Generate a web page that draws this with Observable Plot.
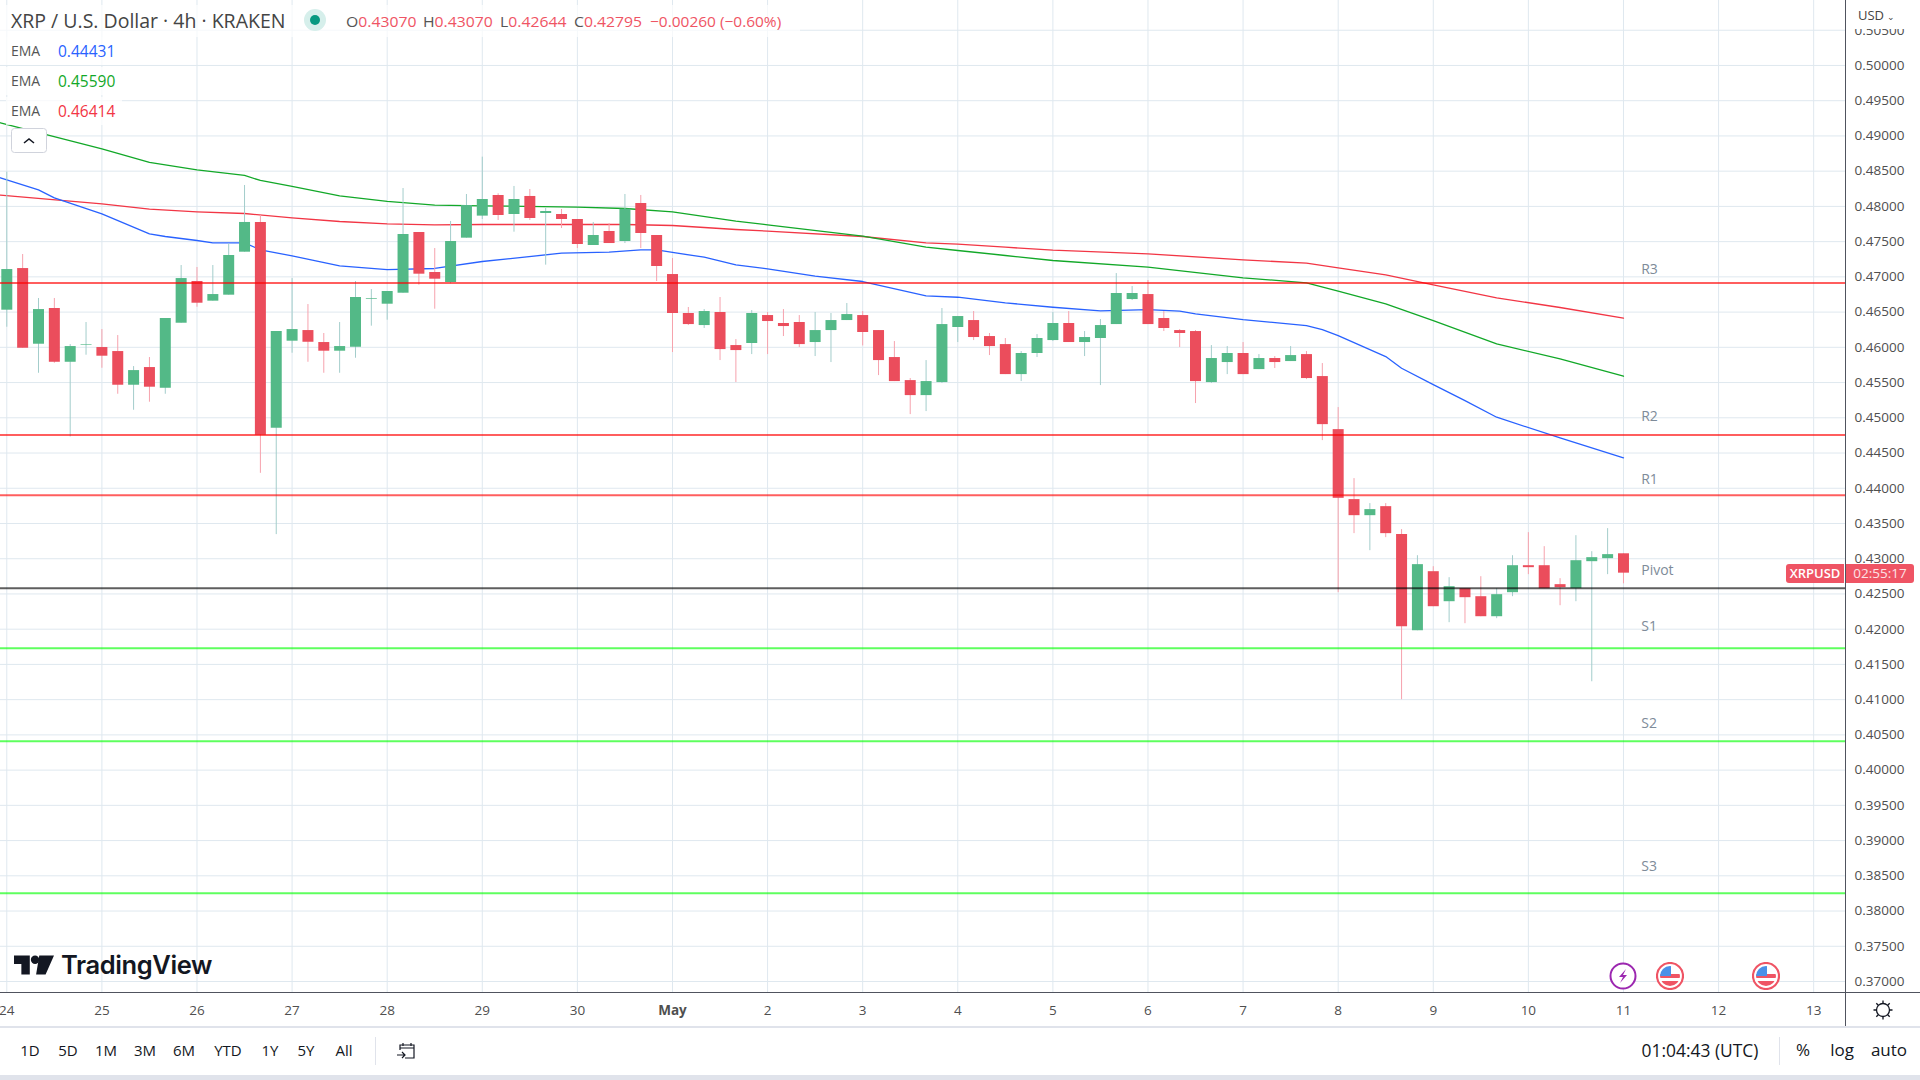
<!DOCTYPE html>
<html><head><meta charset="utf-8">
<script src="https://cdn.jsdelivr.net/npm/d3@7"></script>
<script src="https://cdn.jsdelivr.net/npm/@observablehq/plot@0.6"></script>
<style>
html,body{margin:0;padding:0;background:#fff;width:1920px;height:1080px;overflow:hidden;font-family:"Open Sans",sans-serif}
#wrap{position:relative;width:1920px;height:1080px}
#chart svg{display:block;max-width:none}
.t{position:absolute;white-space:nowrap;line-height:1}
.hl{position:absolute;background:#50535e}
.leg{position:absolute;left:6px;height:28px;background:rgba(255,255,255,.75);font-size:14px;line-height:28px;color:#555}
.leg b{font-weight:400;position:absolute;left:52px;font-size:15.5px}
.btn{position:absolute;top:1042px;font-size:15px;color:#131722;line-height:16px;transform:translateX(-50%)}
</style></head><body><div id="wrap"><div id="chart"></div></div>
<script>
const opens=[.46527,.47118,.46044,.46551,.45788,.46030,.45997,.45940,.45462,.45713,.45419,.46342,.46934,.46655,.46740,.47350,.47772,.44851,.46087,.46238,.46068,.45945,.46001,.46683,.46612,.46768,.47630,.47062,.46920,.47549,.47862,.48155,.47885,.48141,.47899,.47885,.47814,.47445,.47644,.47502,.48041,.47587,.47033,.46480,.46309,.46494,.46025,.46054,.46451,.46338,.46352,.46068,.46238,.46380,.46451,.46238,.45855,.45528,.45315,.45500,.46281,.46380,.46153,.46039,.45613,.45912,.46096,.46338,.46068,.46125,.46323,.46678,.46749,.46409,.46238,.46224,.45500,.45784,.45912,.45684,.45841,.45798,.45897,.45585,.44832,.43839,.43611,.43739,.43342,.41978,.42816,.42390,.42575,.42461,.42177,.42518,.42901,.42901,.42632,.42575,.42958,.43001,.43070];
const closes=[.47104,.45987,.46536,.45788,.46011,.46039,.45874,.45462,.45670,.45434,.46409,.46976,.46626,.46749,.47303,.47772,.44752,.46224,.46252,.46072,.45945,.46011,.46707,.46693,.46792,.47601,.47038,.46967,.47502,.48013,.48098,.47871,.48098,.47828,.47928,.47814,.47459,.47587,.47473,.47961,.47615,.47147,.46480,.46323,.46508,.45968,.45954,.46480,.46366,.46295,.46039,.46238,.46380,.46465,.46210,.45812,.45514,.45315,.45514,.46323,.46437,.46139,.46011,.45613,.45912,.46125,.46338,.46068,.46139,.46309,.46764,.46764,.46323,.46267,.46196,.45514,.45841,.45912,.45613,.45841,.45784,.45883,.45557,.44903,.43857,.43611,.43697,.43356,.42035,.42916,.42319,.42603,.42447,.42177,.42490,.42901,.42873,.42575,.42589,.42972,.43015,.43058,.42795];
const highs=[.48486,.47317,.46693,.46693,.46039,.46352,.46252,.46167,.45727,.45855,.46409,.47161,.47133,.47161,.47469,.48297,.47871,.46224,.46976,.46607,.46196,.46352,.46934,.46820,.46792,.48254,.47630,.47402,.47786,.48169,.48699,.48179,.48283,.48240,.47970,.47956,.47814,.47772,.47757,.48169,.48155,.47587,.47260,.46565,.46536,.46707,.46110,.46522,.46494,.46536,.46451,.46494,.46480,.46622,.46508,.46238,.46082,.45557,.45812,.46551,.46437,.46508,.46196,.46125,.45940,.46181,.46494,.46508,.46224,.46394,.47047,.46863,.46948,.46508,.46252,.46238,.46025,.46011,.46068,.45897,.45869,.46011,.45940,.45770,.45145,.44137,.43782,.43782,.43413,.43043,.42887,.42731,.42575,.42745,.42575,.43043,.43370,.43171,.42717,.43327,.43100,.43427,.43070];
const lows=[.46285,.45987,.45632,.45774,.44728,.45888,.45703,.45334,.45107,.45221,.45334,.46342,.46569,.46655,.46740,.47350,.44212,.43342,.45916,.45788,.45632,.45632,.45845,.46300,.46385,.46768,.46882,.46541,.46901,.47549,.47814,.47800,.47634,.47800,.47166,.47686,.47402,.47445,.47473,.47473,.47402,.46934,.45926,.46309,.46267,.45812,.45500,.45897,.45897,.46153,.45997,.45869,.45784,.46380,.46020,.45599,.45514,.45045,.45088,.45486,.46068,.46096,.45883,.45613,.45514,.45855,.46082,.46068,.45869,.45457,.46323,.46664,.46323,.46224,.45997,.45202,.45486,.45613,.45613,.45684,.45699,.45798,.45542,.44676,.42518,.43356,.43114,.43299,.40999,.41978,.42319,.42092,.42078,.42177,.42149,.42461,.42774,.42575,.42333,.42390,.41254,.42774,.42644];

// EMA readings: candle number, value
const greenIdx=[-0.4,6,9,12,15,16,18,21,24,27,30,36,39,42,46,48,54,58,60,63,66,72,78,82,84,87,90,94,98,102];
const greenEma=[.49187,.48818,.48624,.48519,.48439,.48368,.48283,.48150,.48070,.48018,.48008,.47989,.47970,.47923,.47791,.47739,.47578,.47421,.47374,.47303,.47232,.47137,.46986,.46915,.46797,.46617,.46380,.46049,.45836,.45590];
const redIdx=[-0.4,6,9,12,15,18,21,24,27,30,36,39,42,46,48,54,58,60,63,66,72,78,82,84,87,90,94,98,102];
const redEma=[.48160,.48037,.47961,.47923,.47899,.47838,.47786,.47753,.47739,.47743,.47743,.47743,.47729,.47672,.47649,.47573,.47483,.47464,.47421,.47379,.47327,.47242,.47194,.47128,.47029,.46887,.46702,.46565,.46414];
const blueIdx=[-0.4,2,3,6,9,10,12,13,15,16,18,21,24,27,30,35,38,40,41,42,44,46,48,51,54,58,60,63,66,69,72,74,75,78,82,83,84,87,88,90,92,94,98,102];
const blueEma=[.48406,.48235,.48122,.47895,.47611,.47573,.47516,.47483,.47483,.47384,.47298,.47156,.47104,.47119,.47218,.47336,.47350,.47384,.47384,.47346,.47279,.47171,.47114,.47010,.46934,.46730,.46711,.46631,.46569,.46517,.46536,.46513,.46475,.46394,.46309,.46252,.46167,.45869,.45703,.45471,.45244,.45008,.44714,.44431];

const levelNames=["R3","R2","R1","Pivot","S1","S2","S3"];
const levelValues=[.46906,.44747,.43895,.42575,.41723,.40402,.38244];
const levelLabelY=[.47105,.45018,.44124,.42833,.42038,.40661,.38632];
const levelColors=["#ff0000","#ff0000","#ff0000","#000000","#00ff00","#00ff00","#00ff00"];

const dayLabels=["24","25","26","27","28","29","30","May","2","3","4","5","6","7","8","9","10","11","12","13"];
const priceTicks=d3.range(0,28).map(i=>+(0.37+i*0.005).toFixed(3));
const rangeButtons=["1D","5D","1M","3M","6M","YTD","1Y","5Y","All"];

const H4=4*3600e3, DAY=24*3600e3, T0=Date.UTC(2022,3,24);
const at=i=>new Date(T0+i*H4);
const dayDates=dayLabels.map((_,i)=>new Date(T0+i*DAY));
const candles=opens.map((o,i)=>({t:at(i),o,c:closes[i],h:highs[i],l:lows[i],up:closes[i]>=o}));
const series=(idx,vals)=>idx.map((i,k)=>({t:at(i),v:vals[k]}));
const levels=levelNames.map((n,i)=>({n,v:levelValues[i],ly:levelLabelY[i],col:levelColors[i]}));
const UP="#53b987",DOWN="#eb4d5c",WUP="#a3cdcb",WDOWN="#f6a2ad";

const plot=Plot.plot({
  width:1920,height:1026,marginLeft:0,marginRight:74.5,marginTop:0,marginBottom:34,
  style:{background:"#fff",fontFamily:"'Open Sans',sans-serif",fontSize:"13.5px",color:"#4a4a4a"},
  x:{type:"utc",domain:[new Date(T0-0.0662*DAY),new Date(T0+19.34*DAY)],label:null},
  y:{domain:[.36844,.50922],label:null},
  marks:[
    Plot.gridX(dayDates,{stroke:"#dfe8ef",strokeOpacity:1}),
    Plot.gridY(priceTicks,{stroke:"#dfe8ef",strokeOpacity:1}),
    Plot.line(series(redIdx,redEma),{x:"t",y:"v",stroke:"#f23645",strokeWidth:1.3}),
    Plot.line(series(greenIdx,greenEma),{x:"t",y:"v",stroke:"#12a828",strokeWidth:1.3}),
    Plot.line(series(blueIdx,blueEma),{x:"t",y:"v",stroke:"#2962ff",strokeWidth:1.3}),
    Plot.ruleX(candles,{x:"t",y1:"l",y2:"h",stroke:d=>d.up?WUP:WDOWN,strokeWidth:1}),
    Plot.ruleX(candles,{x:"t",y1:"o",y2:"c",stroke:d=>d.up?UP:DOWN,strokeWidth:11}),
    Plot.ruleY(levels,{y:"v",stroke:"col",strokeOpacity:.63,strokeWidth:2,dy:-0.5}),
    Plot.text(levels,{x:()=>at(103.12),y:"ly",text:"n",textAnchor:"start",fill:"#7e8b99",fontSize:14}),
    Plot.axisY(priceTicks,{anchor:"right",tickSize:0,tickPadding:8.5,label:null,tickFormat:d=>d.toFixed(5),fill:"#4f4f4f"}),
    Plot.axisX(dayDates.filter((_,i)=>dayLabels[i]!=="May"),{tickSize:0,tickPadding:12.5,label:null,tickFormat:d=>String(d.getUTCDate()),fill:"#4f4f4f"}),
    Plot.axisX(dayDates.filter((_,i)=>dayLabels[i]==="May"),{tickSize:0,tickPadding:12.5,label:null,tickFormat:()=>"May",fontWeight:"bold",fill:"#4f4f4f"})
  ]
});
document.getElementById("chart").append(plot);

const wrap=document.getElementById("wrap");
function add(html){wrap.insertAdjacentHTML("beforeend",html);}
// axis borders and panels
add(`<div style="position:absolute;left:1846px;top:0;width:74px;height:29px;background:#fff"></div>`);
add(`<div class="hl" style="left:0;top:992px;width:1920px;height:1px"></div>`);
add(`<div class="hl" style="left:1845px;top:0;width:1px;height:1026px"></div>`);
add(`<div style="position:absolute;left:0;top:1026px;width:1920px;height:1.5px;background:#e0e3eb"></div>`);
add(`<div style="position:absolute;left:0;top:1075px;width:1920px;height:5px;background:#e0e3eb"></div>`);
// header
add(`<div class="t" style="left:0;top:5px;width:800px;height:32px;background:rgba(255,255,255,.7)"></div>`);
add(`<div class="t" style="left:11px;top:11px;font-size:19.5px;color:#444">XRP / U.S. Dollar · 4h · KRAKEN</div>`);
add(`<svg style="position:absolute;left:303px;top:9px" width="24" height="24"><circle cx="12" cy="11" r="11" fill="#d6efeb"/><circle cx="12" cy="11" r="5" fill="#089981"/></svg>`);
const vals=[["O","0.43070"],["H","0.43070"],["L","0.42644"],["C","0.42795"]];
let xs=[346,423,500,574];
vals.forEach((v,i)=>add(`<div class="t" style="left:${xs[i]}px;top:14px;font-size:15px;color:#555;transform-origin:0 0;transform:scaleX(1.05)">${v[0]}<span style="color:#ef5464">${v[1]}</span></div>`));
add(`<div class="t" style="left:650px;top:14px;font-size:15px;color:#ef5464;transform-origin:0 0;transform:scaleX(1.03)">−0.00260 (−0.60%)</div>`);
[["0.44431","#2962ff",37],["0.45590","#12a828",66.5],["0.46414","#f23645",96.5]].forEach(e=>add(`<div class="leg" style="top:${e[2]}px;width:116px"><span style="position:absolute;left:5px">EMA</span><b style="color:${e[1]}">${e[0]}</b></div>`));
add(`<svg style="position:absolute;left:11px;top:128px" width="37" height="26"><rect x=".5" y=".5" width="35" height="24" rx="3" fill="#fff" stroke="#d0d3dc"/><path d="M13 15l5-4 5 4" fill="none" stroke="#131722" stroke-width="1.6"/></svg>`);
// price axis top
add(`<div class="t" style="left:1858px;top:9px;font-size:13px;color:#444">USD <span style="font-size:9px">⌄</span></div>`);
// price label
add(`<div class="t" style="left:1786px;top:564px;width:58px;height:19px;background:#ef5464;color:#fff;font-size:13px;font-weight:600;line-height:19px;text-align:center;border-radius:3px 0 0 3px">XRPUSD</div>`);
add(`<div class="t" style="left:1846px;top:564px;width:68px;height:19px;background:#ef5464;color:#fde3e6;font-size:13.5px;line-height:19px;text-align:center;border-radius:0 3px 3px 0">02:55:17</div>`);
// logo
add(`<svg style="position:absolute;left:14px;top:954px" width="40" height="22" viewBox="0 0 38 20"><path d="M0 1h15v18H7V9H0zM24 1h14l-8 18h-9z" fill="#131722"/><circle cx="20" cy="5" r="4" fill="#131722"/></svg>`);
add(`<div class="t" style="left:61px;top:952px;font-family:Inter,sans-serif;font-weight:600;font-size:25.5px;color:#131722;letter-spacing:-.4px">TradingView</div>`);
// event icons
add(`<svg style="position:absolute;left:1609px;top:962px" width="28" height="28"><circle cx="14" cy="14" r="12.5" fill="#fff" stroke="#9c27b0" stroke-width="2"/><path d="M17 7l-7 8h4l-3 6 7-8h-4z" fill="#9c27b0"/></svg>`);
const flag=x=>`<svg style="position:absolute;left:${x-14}px;top:962px" width="28" height="28"><circle cx="14" cy="14" r="13" fill="#fff" stroke="#ef5464" stroke-width="2.2"/><clipPath id="f${x}"><circle cx="14" cy="14" r="10"/></clipPath><g clip-path="url(#f${x})"><rect x="4" y="4" width="20" height="20" fill="#fff"/><rect x="4" y="12" width="20" height="4" fill="#ef5464"/><rect x="4" y="19" width="20" height="5" fill="#ef5464"/><rect x="4" y="4" width="11" height="10" fill="#4a90e8"/></g></svg>`;
add(flag(1670));add(flag(1766));
// gear
add(`<svg style="position:absolute;left:1872px;top:999px" width="22" height="22" fill="none" stroke="#131722" stroke-width="1.3"><circle cx="11" cy="11" r="6.5"/><path d="M11 1.5v3M11 17.5v3M1.5 11h3M17.5 11h3M4.3 4.3l2 2M15.7 15.7l2 2M17.7 4.3l-2 2M6.3 15.7l-2 2"/></svg>`);
// toolbar
[30,68,106,145,184,228,270,306,344].forEach((x,i)=>add(`<div class="btn" style="left:${x}px">${rangeButtons[i]}</div>`));
add(`<div style="position:absolute;left:375px;top:1037px;width:1px;height:28px;background:#e0e3eb"></div>`);
add(`<svg style="position:absolute;left:396px;top:1040px" width="22" height="22" fill="none" stroke="#131722" stroke-width="1.2"><path d="M4 10V5h14v13H9M4 8h14M7 3v3M15 3v3M1 15h8M6 12l3 3-3 3"/></svg>`);
add(`<div class="btn" style="left:1700px;font-size:17.4px">01:04:43 (UTC)</div>`);
add(`<div style="position:absolute;left:1779px;top:1037px;width:1px;height:28px;background:#e0e3eb"></div>`);
add(`<div class="btn" style="left:1803px;font-size:17px">%</div>`);
add(`<div class="btn" style="left:1842px;font-size:17px">log</div>`);
add(`<div class="btn" style="left:1889px;font-size:17px">auto</div>`);
</script></body></html>
